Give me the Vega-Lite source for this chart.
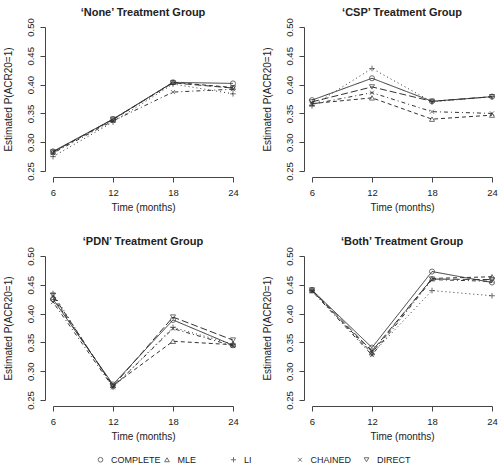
{
  "$schema": "https://vega.github.io/schema/vega-lite/v6.json",
  "padding": {"left": 2, "top": 6, "right": 2, "bottom": 2},
  "background": "white",
  "data": {
    "values": [
      {"g": "‘None’ Treatment Group", "m": "COMPLETE", "t": 6, "p": 0.284},
      {"g": "‘None’ Treatment Group", "m": "COMPLETE", "t": 12, "p": 0.340},
      {"g": "‘None’ Treatment Group", "m": "COMPLETE", "t": 18, "p": 0.404},
      {"g": "‘None’ Treatment Group", "m": "COMPLETE", "t": 24, "p": 0.402},
      {"g": "‘None’ Treatment Group", "m": "MLE", "t": 6, "p": 0.283},
      {"g": "‘None’ Treatment Group", "m": "MLE", "t": 12, "p": 0.339},
      {"g": "‘None’ Treatment Group", "m": "MLE", "t": 18, "p": 0.404},
      {"g": "‘None’ Treatment Group", "m": "MLE", "t": 24, "p": 0.395},
      {"g": "‘None’ Treatment Group", "m": "LI", "t": 6, "p": 0.275},
      {"g": "‘None’ Treatment Group", "m": "LI", "t": 12, "p": 0.335},
      {"g": "‘None’ Treatment Group", "m": "LI", "t": 18, "p": 0.401},
      {"g": "‘None’ Treatment Group", "m": "LI", "t": 24, "p": 0.384},
      {"g": "‘None’ Treatment Group", "m": "CHAINED", "t": 6, "p": 0.281},
      {"g": "‘None’ Treatment Group", "m": "CHAINED", "t": 12, "p": 0.337},
      {"g": "‘None’ Treatment Group", "m": "CHAINED", "t": 18, "p": 0.387},
      {"g": "‘None’ Treatment Group", "m": "CHAINED", "t": 24, "p": 0.392},
      {"g": "‘None’ Treatment Group", "m": "DIRECT", "t": 6, "p": 0.283},
      {"g": "‘None’ Treatment Group", "m": "DIRECT", "t": 12, "p": 0.340},
      {"g": "‘None’ Treatment Group", "m": "DIRECT", "t": 18, "p": 0.403},
      {"g": "‘None’ Treatment Group", "m": "DIRECT", "t": 24, "p": 0.394},
      {"g": "‘CSP’ Treatment Group", "m": "COMPLETE", "t": 6, "p": 0.373},
      {"g": "‘CSP’ Treatment Group", "m": "COMPLETE", "t": 12, "p": 0.411},
      {"g": "‘CSP’ Treatment Group", "m": "COMPLETE", "t": 18, "p": 0.371},
      {"g": "‘CSP’ Treatment Group", "m": "COMPLETE", "t": 24, "p": 0.379},
      {"g": "‘CSP’ Treatment Group", "m": "MLE", "t": 6, "p": 0.367},
      {"g": "‘CSP’ Treatment Group", "m": "MLE", "t": 12, "p": 0.377},
      {"g": "‘CSP’ Treatment Group", "m": "MLE", "t": 18, "p": 0.340},
      {"g": "‘CSP’ Treatment Group", "m": "MLE", "t": 24, "p": 0.347},
      {"g": "‘CSP’ Treatment Group", "m": "LI", "t": 6, "p": 0.363},
      {"g": "‘CSP’ Treatment Group", "m": "LI", "t": 12, "p": 0.428},
      {"g": "‘CSP’ Treatment Group", "m": "LI", "t": 18, "p": 0.370},
      {"g": "‘CSP’ Treatment Group", "m": "LI", "t": 24, "p": 0.379},
      {"g": "‘CSP’ Treatment Group", "m": "CHAINED", "t": 6, "p": 0.366},
      {"g": "‘CSP’ Treatment Group", "m": "CHAINED", "t": 12, "p": 0.386},
      {"g": "‘CSP’ Treatment Group", "m": "CHAINED", "t": 18, "p": 0.353},
      {"g": "‘CSP’ Treatment Group", "m": "CHAINED", "t": 24, "p": 0.350},
      {"g": "‘CSP’ Treatment Group", "m": "DIRECT", "t": 6, "p": 0.370},
      {"g": "‘CSP’ Treatment Group", "m": "DIRECT", "t": 12, "p": 0.396},
      {"g": "‘CSP’ Treatment Group", "m": "DIRECT", "t": 18, "p": 0.371},
      {"g": "‘CSP’ Treatment Group", "m": "DIRECT", "t": 24, "p": 0.379},
      {"g": "‘PDN’ Treatment Group", "m": "COMPLETE", "t": 6, "p": 0.425},
      {"g": "‘PDN’ Treatment Group", "m": "COMPLETE", "t": 12, "p": 0.277},
      {"g": "‘PDN’ Treatment Group", "m": "COMPLETE", "t": 18, "p": 0.389},
      {"g": "‘PDN’ Treatment Group", "m": "COMPLETE", "t": 24, "p": 0.345},
      {"g": "‘PDN’ Treatment Group", "m": "MLE", "t": 6, "p": 0.428},
      {"g": "‘PDN’ Treatment Group", "m": "MLE", "t": 12, "p": 0.275},
      {"g": "‘PDN’ Treatment Group", "m": "MLE", "t": 18, "p": 0.352},
      {"g": "‘PDN’ Treatment Group", "m": "MLE", "t": 24, "p": 0.346},
      {"g": "‘PDN’ Treatment Group", "m": "LI", "t": 6, "p": 0.435},
      {"g": "‘PDN’ Treatment Group", "m": "LI", "t": 12, "p": 0.272},
      {"g": "‘PDN’ Treatment Group", "m": "LI", "t": 18, "p": 0.376},
      {"g": "‘PDN’ Treatment Group", "m": "LI", "t": 24, "p": 0.347},
      {"g": "‘PDN’ Treatment Group", "m": "CHAINED", "t": 6, "p": 0.420},
      {"g": "‘PDN’ Treatment Group", "m": "CHAINED", "t": 12, "p": 0.272},
      {"g": "‘PDN’ Treatment Group", "m": "CHAINED", "t": 18, "p": 0.374},
      {"g": "‘PDN’ Treatment Group", "m": "CHAINED", "t": 24, "p": 0.344},
      {"g": "‘PDN’ Treatment Group", "m": "DIRECT", "t": 6, "p": 0.432},
      {"g": "‘PDN’ Treatment Group", "m": "DIRECT", "t": 12, "p": 0.274},
      {"g": "‘PDN’ Treatment Group", "m": "DIRECT", "t": 18, "p": 0.394},
      {"g": "‘PDN’ Treatment Group", "m": "DIRECT", "t": 24, "p": 0.354},
      {"g": "‘Both’ Treatment Group", "m": "COMPLETE", "t": 6, "p": 0.441},
      {"g": "‘Both’ Treatment Group", "m": "COMPLETE", "t": 12, "p": 0.341},
      {"g": "‘Both’ Treatment Group", "m": "COMPLETE", "t": 18, "p": 0.473},
      {"g": "‘Both’ Treatment Group", "m": "COMPLETE", "t": 24, "p": 0.454},
      {"g": "‘Both’ Treatment Group", "m": "MLE", "t": 6, "p": 0.440},
      {"g": "‘Both’ Treatment Group", "m": "MLE", "t": 12, "p": 0.332},
      {"g": "‘Both’ Treatment Group", "m": "MLE", "t": 18, "p": 0.461},
      {"g": "‘Both’ Treatment Group", "m": "MLE", "t": 24, "p": 0.464},
      {"g": "‘Both’ Treatment Group", "m": "LI", "t": 6, "p": 0.440},
      {"g": "‘Both’ Treatment Group", "m": "LI", "t": 12, "p": 0.330},
      {"g": "‘Both’ Treatment Group", "m": "LI", "t": 18, "p": 0.440},
      {"g": "‘Both’ Treatment Group", "m": "LI", "t": 24, "p": 0.431},
      {"g": "‘Both’ Treatment Group", "m": "CHAINED", "t": 6, "p": 0.439},
      {"g": "‘Both’ Treatment Group", "m": "CHAINED", "t": 12, "p": 0.328},
      {"g": "‘Both’ Treatment Group", "m": "CHAINED", "t": 18, "p": 0.459},
      {"g": "‘Both’ Treatment Group", "m": "CHAINED", "t": 24, "p": 0.456},
      {"g": "‘Both’ Treatment Group", "m": "DIRECT", "t": 6, "p": 0.441},
      {"g": "‘Both’ Treatment Group", "m": "DIRECT", "t": 12, "p": 0.335},
      {"g": "‘Both’ Treatment Group", "m": "DIRECT", "t": 18, "p": 0.460},
      {"g": "‘Both’ Treatment Group", "m": "DIRECT", "t": 24, "p": 0.459}
    ]
  },
  "facet": {
    "field": "g",
    "type": "nominal",
    "sort": ["‘None’ Treatment Group", "‘CSP’ Treatment Group", "‘PDN’ Treatment Group", "‘Both’ Treatment Group"],
    "header": {
      "title": null,
      "labelFont": "Liberation Sans",
      "labelFontSize": 11,
      "labelFontWeight": "bold",
      "labelColor": "#222",
      "labelPadding": 0
    }
  },
  "columns": 2,
  "spacing": {"row": 22, "column": 22},
  "resolve": {"axis": {"x": "independent", "y": "independent"}},
  "spec": {
    "width": 180,
    "height": 144,
    "encoding": {
      "x": {
        "field": "t",
        "type": "quantitative",
        "scale": {"domain": [6, 24], "nice": false, "zero": false},
        "axis": {"values": [6, 12, 18, 24], "title": "Time (months)", "offset": 6, "grid": false, "labelPadding": 5, "titlePadding": 6}
      },
      "y": {
        "field": "p",
        "type": "quantitative",
        "scale": {"domain": [0.25, 0.5], "nice": false, "zero": false},
        "axis": {"values": [0.25, 0.3, 0.35, 0.4, 0.45, 0.5], "format": ".2f", "title": "Estimated P(ACR20=1)", "offset": 8, "grid": false, "labelAngle": -90, "labelAlign": "center", "labelBaseline": "bottom", "labelPadding": 5, "titlePadding": 12}
      }
    },
    "layer": [
      {
        "mark": {"type": "line", "color": "#333", "strokeWidth": 1},
        "encoding": {
          "strokeDash": {
            "field": "m",
            "type": "nominal",
            "scale": {"domain": ["DIRECT", "CHAINED", "LI", "MLE", "COMPLETE"], "range": [[7, 3], [1, 3, 4, 3], [1, 3], [4, 3], [1, 0]]},
            "legend": null
          }
        }
      },
      {
        "mark": {"type": "point", "filled": false, "color": "#333", "size": 26, "strokeWidth": 1},
        "encoding": {
          "shape": {
            "field": "m",
            "type": "nominal",
            "scale": {"domain": ["COMPLETE", "MLE", "LI", "CHAINED", "DIRECT"], "range": ["circle", "triangle-up", "M-1.1,0L1.1,0M0,-1.1L0,1.1", "M-0.8,-0.8L0.8,0.8M0.8,-0.8L-0.8,0.8", "triangle-down"]},
            "legend": {
              "title": null,
              "orient": "none",
              "legendX": 43,
              "legendY": 428,
              "padding": 0,
              "direction": "horizontal",
              "columns": 5,
              "gridAlign": "all",
              "columnPadding": 0.5,
              "labelOffset": 6,
              "labelFont": "Liberation Sans",
              "labelFontSize": 9,
              "labelColor": "#222",
              "symbolSize": 22,
              "symbolStrokeColor": "#333",
              "symbolStrokeWidth": 1
            }
          }
        }
      }
    ]
  },
  "config": {
    "view": {"stroke": null},
    "axis": {
      "labelFont": "Liberation Sans",
      "titleFont": "Liberation Sans",
      "labelFontSize": 9.5,
      "titleFontSize": 10,
      "titleFontWeight": "normal",
      "labelColor": "#222",
      "titleColor": "#222",
      "domainColor": "#444",
      "tickColor": "#444",
      "tickSize": 5,
      "labelFlush": false
    }
  }
}
